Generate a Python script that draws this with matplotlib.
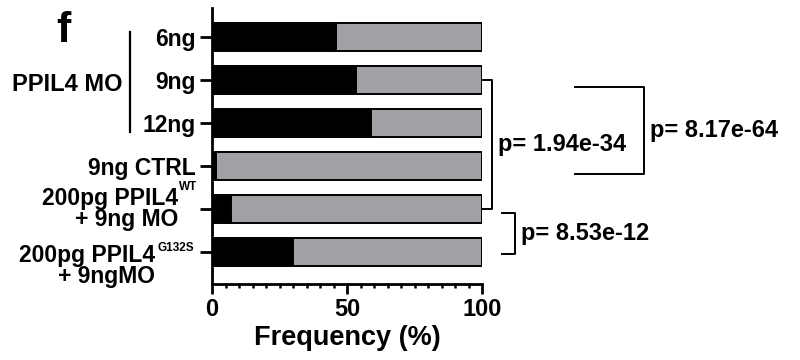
import matplotlib
matplotlib.use("Agg")
import matplotlib.pyplot as plt
import numpy as np

plt.rcParams["font.family"] = ["Liberation Sans", "DejaVu Sans"]
plt.rcParams["font.weight"] = "bold"

# Daten
groups = ["6ng", "9ng", "12ng", "9ng CTRL", "WT", "G132S"]
affected = [46, 53.5, 59, 1.5, 7, 30]   # schwarz (%)
total = [100, 100, 100, 100, 100, 100]
gray = "#a0a0a5"

# Vergleiche: (Zeile oben, Zeile unten, p-Text, x-Bracket, x-Stub-Start)
comparisons = [
    (1, 4, "p= 1.94e-34", 103.6, 100.4),
    (1.16, 3.19, "p= 8.17e-64", 160.0, 134.4),
    (4.1, 5.05, "p= 8.53e-12", 112.2, 107.3),
]

fs = 16.5
fig = plt.figure(figsize=(8, 3.6), dpi=100)
ax = fig.add_axes([0.265, 0.211, 0.3375, 0.767])
y = np.arange(len(groups))
ax.barh(y, affected, height=0.65, color="black", edgecolor="black", lw=1.4)
ax.barh(y, np.array(total) - np.array(affected), left=affected, height=0.65,
        color=gray, edgecolor="black", lw=1.4)

ax.set_xlim(0, 100)
ax.set_ylim(5.74, -0.67)
for s in ("top", "right"):
    ax.spines[s].set_visible(False)
for s in ("left", "bottom"):
    ax.spines[s].set_linewidth(2.0)

ax.set_xticks([0, 50, 100])
ax.set_xticks(np.arange(0, 101, 5), minor=True)
ax.tick_params(axis="x", which="major", length=7, width=2.0, labelsize=17, pad=3)
ax.tick_params(axis="x", which="minor", length=3, width=1.8)
ax.set_xlabel("Frequency (%)", fontsize=19.5, fontweight="bold", labelpad=3)

ax.set_yticks(y)
ax.set_yticklabels(groups[:4] + ["", ""])
ax.tick_params(axis="y", length=9, width=2.0, labelsize=fs, pad=3)

# zweizeilige Labels mit Hochstellung
lab = dict(xycoords=("axes fraction", "data"), textcoords="offset pixels",
           ha="right", va="center", fontsize=fs, fontweight="bold", linespacing=0.88)
sup = dict(xycoords=("axes fraction", "data"), textcoords="offset pixels",
           ha="left", va="center", fontsize=8.5, fontweight="bold")
ax.annotate("200pg PPIL4\n+ 9ng MO", xy=(0, 4), xytext=(-34, 0), **lab)
ax.annotate("WT", xy=(0, 4), xytext=(-33, 22), **sup)
ax.annotate("200pg PPIL4\n+ 9ngMO", xy=(0, 5), xytext=(-57, -14), **lab)
ax.annotate("G132S", xy=(0, 5), xytext=(-55, 4), **sup)

# PPIL4 MO Klammer
ax.plot([-30.4, -30.4], [-0.12, 2.2], color="black", lw=1.6, clip_on=False)
ax.text(-33.3, 1.1, "PPIL4 MO", ha="right", va="center", fontsize=17, fontweight="bold")

# Signifikanz-Klammern
for y0, y1, txt, xb, xs in comparisons:
    ax.plot([xs, xb, xb, xs], [y0, y0, y1, y1], color="black", lw=1.4, clip_on=False)
    ax.text(xb + 2.2, (y0 + y1) / 2, txt, ha="left", va="center", fontsize=17,
            fontweight="bold")

fig.text(0.079, 0.915, "f", fontsize=31, fontweight="bold", ha="center", va="center")

fig.savefig("out.png", dpi=100)
